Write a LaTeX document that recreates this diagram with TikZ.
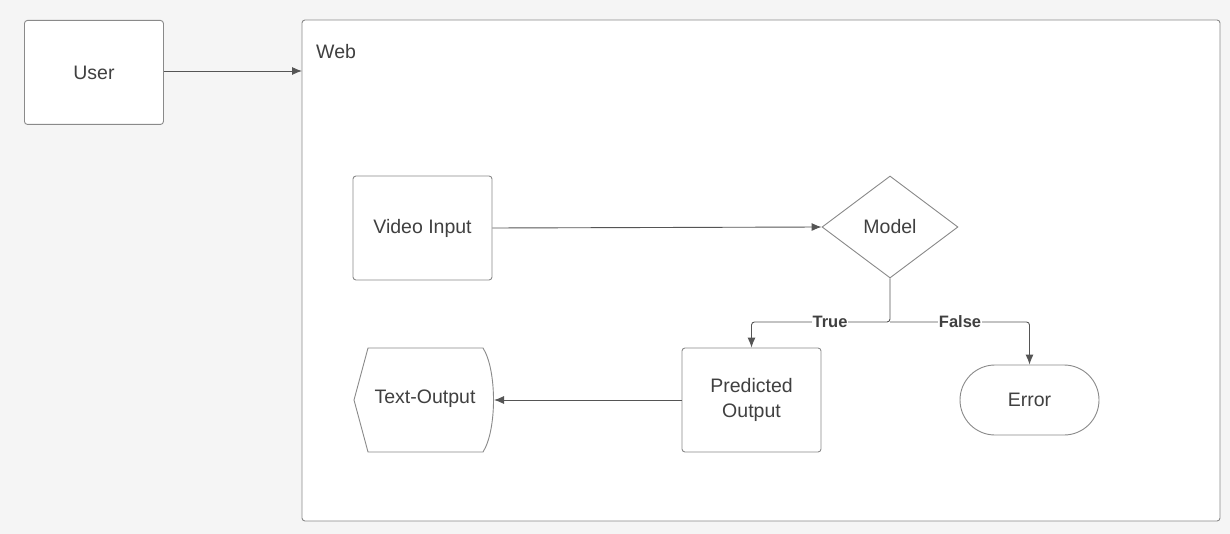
\documentclass[tikz,border=0pt]{standalone}
\usepackage{fontspec}
\setmainfont{Liberation Sans}
\usetikzlibrary{shapes.geometric,arrows.meta}
\definecolor{pagebg}{HTML}{F5F5F5}
\definecolor{edge}{HTML}{8A8A8A}
\definecolor{ink}{HTML}{404040}
\definecolor{wire}{HTML}{555555}
\newcommand{\labelfont}{\fontsize{19.5}{24.5}\selectfont}
\tikzset{
  box/.style={draw=edge, fill=white, line width=0.9pt, rounded corners=3pt,
    minimum width=139pt, minimum height=104pt, align=center, text=ink,
    font=\labelfont},
  decision/.style={draw=edge, fill=white, line width=0.9pt, diamond, aspect=1.33,
    minimum width=136pt, minimum height=102pt, inner sep=0pt, text=ink,
    font=\labelfont},
  terminal/.style={draw=edge, fill=white, line width=0.9pt, rounded corners=35pt,
    minimum width=139pt, minimum height=70pt, text=ink,
    font=\labelfont},
  flow/.style={draw=wire, line width=0.9pt, -{Latex[length=10pt,width=8pt]}},
  branch/.style={font=\bfseries\fontsize{16.5}{19}\selectfont, text=ink, fill=white,
    inner sep=1pt},
}
\begin{document}
\begin{tikzpicture}[x=1pt,y=-1pt]
  \fill[pagebg] (0,0) rectangle (1230,534);
  \useasboundingbox (0,0) rectangle (1230,534);

  % outer containers
  \node[box, anchor=north west] (user) at (24,20) {User};
  \draw[draw=edge, fill=white, line width=0.9pt, rounded corners=3pt]
    (302,20) rectangle (1220,521);
  \node[anchor=west, text=ink, font=\labelfont, inner sep=0pt]
    (weblabel) at (316,52) {Web};
  \coordinate (webin) at (302,71);

  % flow nodes
  \node[box] (video) at (422.5,228) {Video Input};
  \node[decision] (model) at (890,227) {Model};
  \node[box] (pred) at (751.5,400) {Predicted\\Output};
  \node[terminal] (err) at (1029.5,400) {Error};

  % display-shaped output node
  \draw[draw=edge, fill=white, line width=0.9pt]
    (368,348) -- (483,348) .. controls (497,370) and (497,430) .. (483,452)
    -- (368,452) -- (354,400) -- cycle;
  \node[text=ink, font=\labelfont, inner sep=0pt] (textout) at (425,399) {Text-Output};
  \coordinate (textin) at (494,400);

  % connectors
  \draw[flow] (user.east |- webin) -- (webin);
  \draw[flow] (video.east) -- (model.west);
  \coordinate (split) at (890,322);
  \draw[flow, rounded corners=3pt] (model.south) -- (split) -| (pred.north);
  \draw[flow, rounded corners=3pt] (split) -| (err.north);
  \node[branch] (truelbl) at (830,322) {True};
  \node[branch] (falselbl) at (960,322) {False};
  \draw[flow] (pred.west) -- (textin);
\end{tikzpicture}
\end{document}
